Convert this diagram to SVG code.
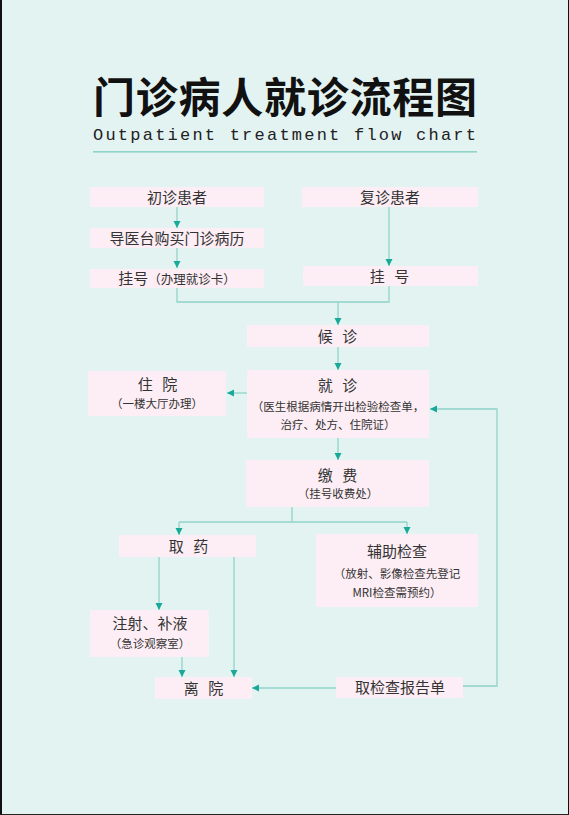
<svg xmlns="http://www.w3.org/2000/svg" width="569" height="815" viewBox="0 0 569 815">
<style>
.bg{fill:#e3f3f2}
.box{fill:#fdeef5}
.t{font-family:"Noto Sans CJK SC","Noto Sans",sans-serif;fill:#333;text-anchor:middle}
.m{font-size:15px}
.s{font-size:11.5px}
.sp{letter-spacing:3px}
.ln{fill:none;stroke:#8fd4c9;stroke-width:1.3}
</style>
<defs>
<marker id="ah" viewBox="0 0 10 10" refX="10" refY="5" markerWidth="7" markerHeight="9" markerUnits="userSpaceOnUse" orient="auto">
<path d="M0,0 L10,5 L0,10 Z" fill="#19a999"/>
</marker>
</defs>
<rect class="bg" x="0" y="0" width="569" height="815"/>
<rect x="0" y="0" width="2" height="815" fill="#111"/>
<rect x="568" y="0" width="1" height="815" fill="#111"/>
<rect x="0" y="814" width="569" height="1" fill="#222"/>

<g id="title">
<text x="93" y="113" font-family="'Noto Sans CJK SC',sans-serif" font-weight="700" font-size="42" fill="#111" textLength="384" lengthAdjust="spacing">门诊病人就诊流程图</text>
<text x="93" y="140" font-family="'Liberation Mono','DejaVu Sans Mono',monospace" font-size="17" fill="#222" textLength="383" lengthAdjust="spacing">Outpatient treatment flow chart</text>
<rect x="93" y="151" width="384" height="1.6" fill="#8fd4c9"/>
</g>

<g id="connectors">
<path class="ln" d="M177,207 V228" marker-end="url(#ah)"/>
<path class="ln" d="M177,248 V268" marker-end="url(#ah)"/>
<path class="ln" d="M389,207 V266" marker-end="url(#ah)"/>
<path class="ln" d="M177,288 V302 H389 V286"/>
<path class="ln" d="M338,302 V325" marker-end="url(#ah)"/>
<path class="ln" d="M338,347 V370" marker-end="url(#ah)"/>
<path class="ln" d="M247,393 H227" marker-end="url(#ah)"/>
<path class="ln" d="M338,438 V460" marker-end="url(#ah)"/>
<path class="ln" d="M292,507 V522"/>
<path class="ln" d="M179,522 H407"/>
<path class="ln" d="M179,522 V535" marker-end="url(#ah)"/>
<path class="ln" d="M407,522 V534" marker-end="url(#ah)"/>
<path class="ln" d="M159,557 V610" marker-end="url(#ah)"/>
<path class="ln" d="M234,557 V677" marker-end="url(#ah)"/>
<path class="ln" d="M182,657 V677" marker-end="url(#ah)"/>
<path class="ln" d="M336,688 H252" marker-end="url(#ah)"/>
<path class="ln" d="M463,686 H497 V409 H430" marker-end="url(#ah)"/>
</g>

<g id="n1"><rect class="box" x="90" y="187" width="174" height="20"/><text class="t m" x="177" y="202.5">初诊患者</text></g>
<g id="n2"><rect class="box" x="302" y="187" width="176" height="20"/><text class="t m" x="390" y="202.5">复诊患者</text></g>
<g id="n3"><rect class="box" x="90" y="228" width="174" height="20"/><text class="t m" x="177" y="243.5">导医台购买门诊病历</text></g>
<g id="n4"><rect class="box" x="90" y="269" width="174" height="19"/><text class="t m" x="177" y="284">挂号<tspan font-size="12.5">（办理就诊卡）</tspan></text></g>
<g id="n5"><rect class="box" x="303" y="266" width="175" height="20"/><text class="t m sp" x="391" y="281.5">挂 号</text></g>
<g id="n6"><rect class="box" x="247" y="325" width="182" height="22"/><text class="t m sp" x="339" y="341.5">候 诊</text></g>
<g id="n7"><rect class="box" x="247" y="370" width="182" height="68"/><text class="t m sp" x="339" y="391">就 诊</text><text class="t s" x="338" y="411">（医生根据病情开出检验检查单，</text><text class="t s" x="338" y="429">治疗、处方、住院证）</text></g>
<g id="n8"><rect class="box" x="88" y="371" width="138" height="45"/><text class="t m sp" x="159" y="390">住 院</text><text class="t s" x="157" y="408">（一楼大厅办理）</text></g>
<g id="n9"><rect class="box" x="246" y="460" width="183" height="47"/><text class="t m sp" x="339" y="481">缴 费</text><text class="t s" x="338" y="498">（挂号收费处）</text></g>
<g id="n10"><rect class="box" x="119" y="535" width="137" height="22"/><text class="t m sp" x="190" y="551.5">取 药</text></g>
<g id="n11"><rect class="box" x="316" y="534" width="162" height="73"/><text class="t m" x="397" y="557">辅助检查</text><text class="t s" x="397" y="578">（放射、影像检查先登记</text><text class="t s" x="397" y="597">MRI检查需预约）</text></g>
<g id="n12"><rect class="box" x="90" y="610" width="119" height="47"/><text class="t m" x="150" y="629">注射、补液</text><text class="t s" x="150" y="648">（急诊观察室）</text></g>
<g id="n13"><rect class="box" x="155" y="677" width="97" height="22"/><text class="t m sp" x="205" y="693.5">离 院</text></g>
<g id="n14"><rect class="box" x="336" y="677" width="127" height="21"/><text class="t m" x="400" y="693">取检查报告单</text></g>
</svg>
